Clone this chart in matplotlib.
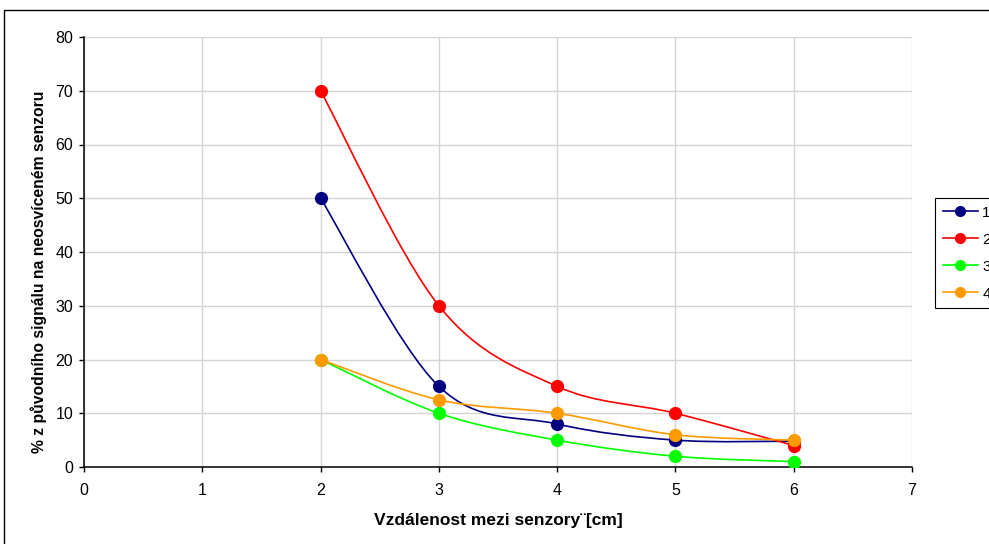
import numpy as np
import matplotlib
matplotlib.use('Agg')
import matplotlib.pyplot as plt
from matplotlib.path import Path
from matplotlib.patches import PathPatch, Rectangle
from matplotlib.lines import Line2D

plt.rcParams['font.family'] = ['Liberation Sans', 'DejaVu Sans']

# data
distance = [2, 3, 4, 5, 6]
s1 = [50, 15, 8, 5, 4.8]
s2 = [70, 30, 15, 10, 4]
s3 = [20, 10, 5, 2, 1]
s4 = [20, 12.5, 10, 6, 5]
names = ['1', '2', '3', '4']
colors = ['#000080', '#ff0000', '#00ff00', '#ff9900']


def smooth_path(x, y):
    # Excel-like smoothed line: cubic bezier through the points
    p = np.column_stack([x, y]).astype(float)
    ext = np.vstack([p[0], p, p[-1]])
    verts = [p[0]]
    codes = [Path.MOVETO]
    for i in range(len(p) - 1):
        a, b, c, d = ext[i], ext[i + 1], ext[i + 2], ext[i + 3]
        verts += [b + (c - a) / 6, c - (d - b) / 6, c]
        codes += [Path.CURVE4] * 3
    return Path(verts, codes)


fig = plt.figure(figsize=(9.89, 5.44), dpi=100)
ax = fig.add_axes([84 / 989, (544 - 467) / 544, 828 / 989, 430 / 544])

handles = []
for ys, col, nm in zip([s1, s2, s3, s4], colors, names):
    ax.add_patch(PathPatch(smooth_path(distance, ys), facecolor='none',
                           edgecolor=col, lw=1.2, zorder=3))
    ax.plot(distance, ys, 'o', color=col, ms=8.5, zorder=4)
    handles.append(Line2D([], [], color=col, lw=1.2, marker='o', ms=7))

ax.set_xlim(0, 7)
ax.set_ylim(0, 80)
ax.set_xticks(range(0, 8))
ax.set_yticks(range(0, 81, 10))
ax.grid(True, color='#d4d4d4', lw=1)
ax.set_axisbelow(True)
for s in ['top', 'right']:
    ax.spines[s].set_visible(False)
for s in ['left', 'bottom']:
    ax.spines[s].set_linewidth(1.1)
ax.tick_params(direction='out', length=3.6, width=1, labelsize=11.5)
ax.tick_params(axis='y', pad=4.3)
ax.tick_params(axis='x', pad=8)

ax.set_xlabel('Vzdálenost mezi senzory¨[cm]', fontsize=12.5, fontweight='bold')
ax.set_ylabel('% z původního signálu na neosvíceném senzoru', fontsize=11.3,
              fontweight='bold')
ax.xaxis.set_label_coords(0.5, -0.107)
ax.yaxis.set_label_coords(-0.045, 0.455)

leg = fig.legend(handles, names, loc='upper left',
                 bbox_to_anchor=(935 / 989, (544 - 198) / 544),
                 fontsize=11, handlelength=2.3, labelspacing=0.85,
                 fancybox=False, edgecolor='black', framealpha=1,
                 borderaxespad=0, handletextpad=0.3, borderpad=0.5)
leg.get_frame().set_linewidth(0.8)

fig.patches.append(Rectangle((3.5 / 989, -0.1), 1.2, (544 - 9.5) / 544 + 0.1,
                             transform=fig.transFigure, fill=False,
                             edgecolor='black', lw=1, clip_on=False))

fig.savefig('out.png', dpi=100)
